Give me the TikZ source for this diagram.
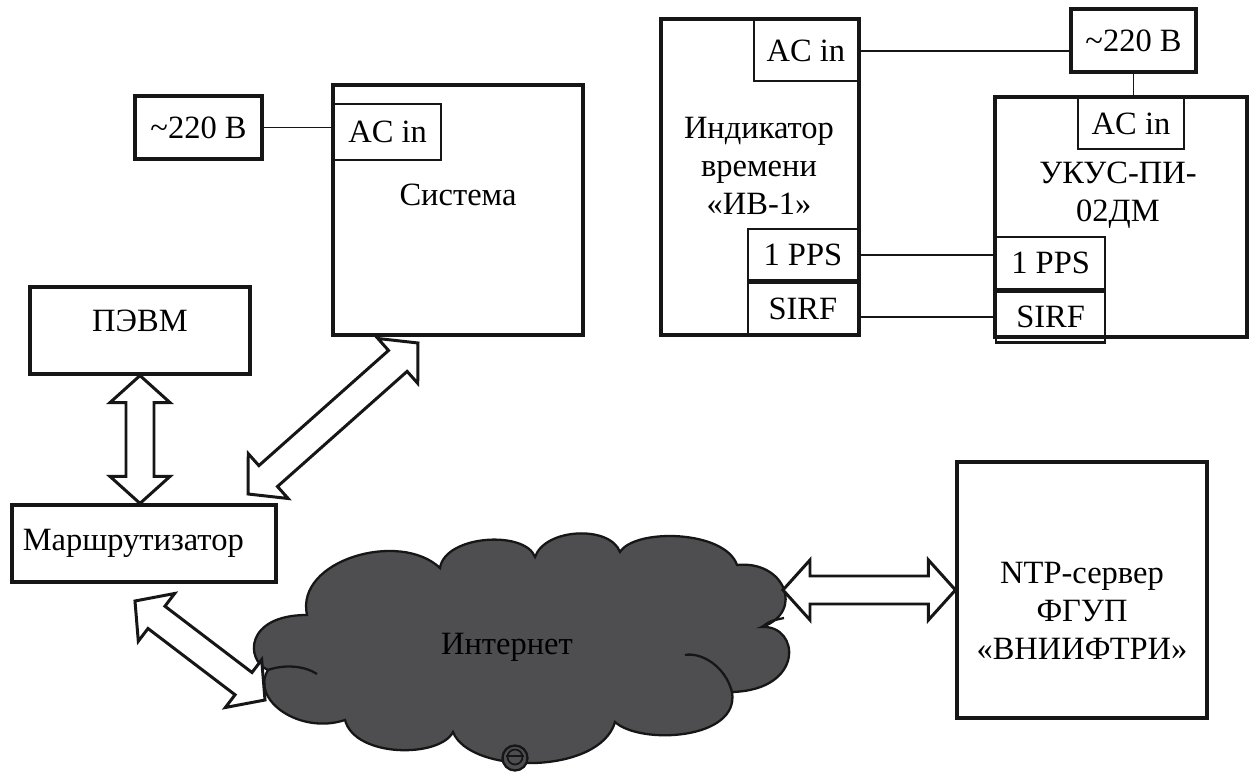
\documentclass[tikz,border=0pt]{standalone}
\usepackage{fontspec}
\setmainfont{Liberation Serif}
\usetikzlibrary{calc,positioning}
\definecolor{cloudfill}{RGB}{78,78,80}
\definecolor{inkline}{RGB}{22,22,22}
\tikzset{
	box/.style={draw=inkline,line width=1.8pt,inner sep=2pt},
	subbox/.style={draw=inkline,line width=1.3pt,inner sep=2pt},
	wire/.style={draw=inkline,line width=1.1pt},
	blockarrow/.style={draw=inkline,fill=white,line width=1.7pt,line join=miter},
	cloudline/.style={draw=inkline,line width=1.3pt},
}
% hollow double-headed block arrow between two points
\newcommand{\dblarrow}[2]{%
	\draw[blockarrow] (#1) -- ($(#1)!0.54cm!(#2)!0.6cm!90:(#2)$) -- ($(#1)!0.54cm!(#2)!0.28cm!90:(#2)$)
		-- ($(#2)!0.54cm!(#1)!0.28cm!-90:(#1)$) -- ($(#2)!0.54cm!(#1)!0.6cm!-90:(#1)$) -- (#2)
		-- ($(#2)!0.54cm!(#1)!0.6cm!90:(#1)$) -- ($(#2)!0.54cm!(#1)!0.28cm!90:(#1)$)
		-- ($(#1)!0.54cm!(#2)!0.28cm!-90:(#2)$) -- ($(#1)!0.54cm!(#2)!0.6cm!-90:(#2)$) -- cycle;}
\begin{document}
\begin{tikzpicture}[x=0.02cm,y=-0.02cm,every node/.style={font=\fontsize{18.5}{21.5}\selectfont}]
	\fill[white] (0,0) rectangle (1252,783);
	\useasboundingbox (0,0) rectangle (1252,783);
	% left part
	\node[box,minimum width=2.54cm,minimum height=1.26cm] (pwrA) at (198.5,127.5) {\textasciitilde220 В};
	\node[box,minimum width=5cm,minimum height=5cm] (sys) at (458,210) {};
	\node[subbox,anchor=north west,minimum width=2.14cm,minimum height=1.12cm] (sysac) at (333,103) {AC in};
	\node (systxt) at (458,195) {Система};
	\draw[wire] (pwrA.east) -- (pwrA.east -| sysac.west);
	\node[box,minimum width=4.4cm,minimum height=1.74cm,text depth=11pt] (pevm) at (140,330.5) {ПЭВМ};
	\node[box,minimum width=5.28cm,minimum height=1.54cm,text width=4.85cm,align=left] (rtr) at (144,543.5) {Маршрутизатор};
	% cloud
	\draw[cloudline,fill=cloudfill]
		(268,670) .. controls (245,660) and (245,615) .. (307,615)
		.. controls (295,560) and (400,530) .. (440,568)
		.. controls (445,535) and (525,530) .. (535,557)
		.. controls (545,528) and (610,525) .. (620,552)
		.. controls (635,528) and (725,530) .. (737,565)
		.. controls (785,560) and (805,612) .. (762,627)
		.. controls (800,625) and (805,690) .. (732,692)
		.. controls (740,740) and (640,745) .. (615,722)
		.. controls (600,775) and (470,775) .. (453,732)
		.. controls (440,758) and (355,758) .. (345,720)
		.. controls (300,735) and (250,700) .. (268,670) -- cycle;
	\draw[cloudline] (268,670) .. controls (285,664) and (305,666) .. (317,674);
	\draw[cloudline] (732,692) .. controls (725,665) and (700,652) .. (685,655);
	\draw[cloudline] (762,627) .. controls (770,621) .. (784,618);
	\draw[cloudline,fill=cloudfill] (515,758) circle[radius=0.25cm];
	\draw[inkline,line width=1pt] (515,757) circle[radius=0.15cm];
	\draw[inkline,line width=1pt] (506,756) -- (524,756);
	\node (inet) at (507,647) {Интернет};
	% NTP server
	\node[box,minimum width=5cm,minimum height=5.12cm] (ntp) at (1082,590) {};
	\node[align=center] (ntptxt) at (1082,611) {NTP-сервер\\ФГУП\\«ВНИИФТРИ»};
	% arrows
	\coordinate (pv2) at (pevm.south |- rtr.north);
	\coordinate (rt1) at (248,494);
	\coordinate (sy1) at (418,343);
	\coordinate (rt2) at (135,601);
	\coordinate (cl1) at (265,700);
	\coordinate (cl2) at (783,590);
	\dblarrow{pevm.south}{pv2}
	\dblarrow{rt1}{sy1}
	\dblarrow{rt2}{cl1}
	\dblarrow{cl2}{ntp.west}
	% right top part
	\node[box,minimum width=3.96cm,minimum height=6.32cm] (ind) at (760,177) {};
	\node[subbox,anchor=north east,minimum width=2.08cm,minimum height=1.22cm] (indac) at (859,19) {AC in};
	\node[align=center] (indtxt) at (759,166) {Индикатор\\времени\\«ИВ-1»};
	\node[subbox,anchor=north east,minimum width=2.2cm,minimum height=1.02cm] (indpps) at (859,228) {1 PPS};
	\node[subbox,anchor=north,minimum width=2.2cm,minimum height=1.04cm,below=0pt of indpps] (indsirf) {SIRF};
	\node[box,minimum width=2.5cm,minimum height=1.26cm] (pwrB) at (1133.5,40.5) {\textasciitilde220 В};
	\node[box,minimum width=5.04cm,minimum height=4.8cm] (ukus) at (1121,217) {};
	\node[subbox,anchor=north,minimum width=2.12cm,minimum height=1.02cm] (ukusac) at (1131,97) {AC in};
	\node[align=center] (ukustxt) at (1118,195) {УКУС-ПИ-\\02ДМ};
	\node[subbox,anchor=north west,minimum width=2.18cm,minimum height=1.04cm] (ukuspps) at (995,236) {1 PPS};
	\node[subbox,anchor=north,minimum width=2.18cm,minimum height=1.02cm,below=0pt of ukuspps] (ukussirf) {SIRF};
	\draw[wire] (indac.east) -- (indac.east -| pwrB.west);
	\draw[wire] (pwrB.south) -- (pwrB.south |- ukus.north);
	\draw[wire] (indpps.east) -- (indpps.east -| ukuspps.west);
	\draw[wire] (ukussirf.west -| indsirf.east) -- (ukussirf.west);
\end{tikzpicture}
\end{document}
